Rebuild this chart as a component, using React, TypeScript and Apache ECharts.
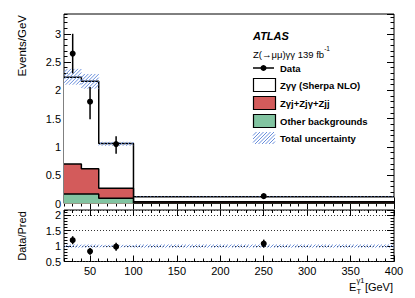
import React, { useEffect, useRef } from 'react';
import * as echarts from 'echarts';

// ---- data ----
const binEdges = [20, 40, 60, 100, 400];
const otherBkg = [0.17, 0.17, 0.095, 0.01];
const zjetsBkg = [0.53, 0.445, 0.175, 0.02];
const zyySignal = [1.53, 1.545, 0.79, 0.09];
const uncLow = [2.1, 2.03, 1.02, 0.115];
const uncHigh = [2.38, 2.29, 1.09, 0.128];
const dataX = [30, 50, 80, 250];
const dataY = [2.65, 1.8, 1.05, 0.13];
const dataErrUp = [0.35, 0.26, 0.14, 0.02];
const dataErrDown = [0.35, 0.31, 0.17, 0.02];
const ratioY = [1.19, 0.83, 0.98, 1.08];
const ratioErr = [0.13, 0.11, 0.13, 0.13];
const ratioUncLow = [0.95, 0.95, 0.96, 0.95];
const ratioUncHigh = [1.05, 1.05, 1.04, 1.05];
const xMajorTicks = [50, 100, 150, 200, 250, 300, 350, 400];
const legendLabels = ['Data', 'Zγγ (Sherpa NLO)', 'Zγj+Zjγ+Zjj', 'Other backgrounds', 'Total uncertainty'];

const FONT = '"Liberation Sans", Arial, Helvetica, sans-serif';
const RED = '#d35b5b';
const GREEN = '#82c4a1';
const HATCH = '#6a8fdc';

function stepData(vals: number[]) {
  return binEdges.map((e, i) => [e, vals[Math.min(i, vals.length - 1)]]);
}

function hatch(x0: number, y0: number, x1: number, y1: number, step: number, width = 1) {
  const out: any[] = [];
  const top = Math.min(y0, y1), bot = Math.max(y0, y1);
  for (let c = x0 + top; c <= x1 + bot; c += step) {
    const xa = Math.max(x0, c - bot);
    const xb = Math.min(x1, c - top);
    if (xb > xa) {
      out.push({
        type: 'line',
        shape: { x1: xa, y1: c - xa, x2: xb, y2: c - xb },
        style: { stroke: HATCH, lineWidth: width },
      });
    }
  }
  return out;
}

function xAx(grid: number, pos: 'top' | 'bottom', major: boolean, labels: boolean) {
  const base: any = {
    type: 'value', gridIndex: grid, position: pos, min: 20, max: 400,
    axisLine: { show: false }, splitLine: { show: false },
    axisTick: { show: true, inside: true, length: major ? 6 : 3, lineStyle: { color: '#000', width: 1 } },
    axisLabel: { show: false },
  };
  if (major) {
    base.axisTick.customValues = xMajorTicks;
    if (labels) {
      base.axisLabel = { show: true, customValues: xMajorTicks, fontFamily: FONT, fontSize: 11, color: '#000', margin: 4 };
    }
  } else {
    base.interval = 10;
  }
  return base;
}

function yAx(grid: number, pos: 'left' | 'right', major: boolean, labels: boolean, min: number, max: number, dotted = false) {
  return {
    type: 'value', gridIndex: grid, position: pos, min, max,
    interval: major ? 0.5 : 0.1,
    axisLine: { show: false },
    splitLine: dotted ? { show: true, lineStyle: { type: [1, 2], color: '#333', width: 1 } } : { show: false },
    axisTick: { show: true, inside: true, length: major ? 7 : 3.5, lineStyle: { color: '#000', width: 1 } },
    axisLabel: labels
      ? { show: true, fontFamily: FONT, fontSize: 11, color: '#000', margin: 3, showMaxLabel: false }
      : { show: false },
  };
}

export default function App() {
  const ref = useRef<HTMLDivElement>(null);
  useEffect(() => {
    if (!ref.current) return;
    const chart = echarts.init(ref.current, undefined, { renderer: 'svg' });

    const greenTop = otherBkg.map((v) => v);
    const redTop = otherBkg.map((v, i) => v + zjetsBkg[i]);
    const total = otherBkg.map((v, i) => v + zjetsBkg[i] + zyySignal[i]);

    const bins = otherBkg.map((_, i) => i);

    const legendY = [68, 85, 103, 121, 138];
    const graphic: any[] = [
      { type: 'text', x: 253, y: 36, style: { text: 'ATLAS', font: `italic bold 11px ${FONT}`, fill: '#000', verticalAlign: 'middle' } },
      {
        type: 'text', x: 253, y: 52,
        style: {
          text: '{a|Z(→μμ)γγ 139 fb}{s|-1}', verticalAlign: 'middle',
          rich: {
            a: { fontFamily: FONT, fontSize: 9.5, fill: '#000', verticalAlign: 'bottom', lineHeight: 14 },
            s: { fontFamily: FONT, fontSize: 6.5, fill: '#000', verticalAlign: 'top', lineHeight: 14 },
          },
        },
      },
      { type: 'line', shape: { x1: 253, y1: legendY[0], x2: 274, y2: legendY[0] }, style: { stroke: '#000', lineWidth: 1.5 } },
      { type: 'circle', shape: { cx: 263.5, cy: legendY[0], r: 3 }, style: { fill: '#000' } },
      { type: 'rect', shape: { x: 253.5, y: legendY[1] - 6.5, width: 22, height: 13 }, style: { fill: '#fff', stroke: '#000', lineWidth: 1.2 } },
      { type: 'rect', shape: { x: 253.5, y: legendY[2] - 6.5, width: 22, height: 13 }, style: { fill: RED, stroke: '#000', lineWidth: 1.2 } },
      { type: 'rect', shape: { x: 253.5, y: legendY[3] - 6.5, width: 22, height: 13 }, style: { fill: GREEN, stroke: '#000', lineWidth: 1.2 } },
      ...hatch(253, legendY[4] - 6, 275, legendY[4] + 6, 3.5),
      ...legendLabels.map((t, i) => ({
        type: 'text', x: 280, y: legendY[i],
        style: { text: t, font: `bold 9.5px ${FONT}`, fill: '#000', verticalAlign: 'middle' },
      })),
      { type: 'text', x: 22, y: 15, rotation: Math.PI / 2, style: { text: 'Events/GeV', font: `11.5px ${FONT}`, fill: '#000', align: 'right', verticalAlign: 'middle' } },
      { type: 'text', x: 22, y: 236, rotation: Math.PI / 2, style: { text: 'Data/Pred', font: `11px ${FONT}`, fill: '#000', align: 'center', verticalAlign: 'middle' } },
      { type: 'text', x: 393, y: 287, style: { text: '[GeV]', font: `11px ${FONT}`, fill: '#000', align: 'right', verticalAlign: 'middle' } },
      { type: 'text', x: 349, y: 287, style: { text: 'E', font: `11px ${FONT}`, fill: '#000', align: 'left', verticalAlign: 'middle' } },
      { type: 'text', x: 356.5, y: 291, style: { text: 'T', font: `7.5px ${FONT}`, fill: '#000', align: 'left', verticalAlign: 'middle' } },
      { type: 'text', x: 356.5, y: 280, style: { text: 'γ1', font: `7.5px ${FONT}`, fill: '#000', align: 'left', verticalAlign: 'middle' } },
    ];

    const option: any = {
      animation: false,
      backgroundColor: '#fff',
      grid: [
        { left: 64, right: 21, top: 14, height: 189.5, show: true, borderColor: '#000', borderWidth: 1, backgroundColor: 'transparent' },
        { left: 64, right: 21, top: 210, height: 51.5, show: true, borderColor: '#000', borderWidth: 1, backgroundColor: 'transparent' },
      ],
      xAxis: [
        xAx(0, 'bottom', true, false),
        xAx(0, 'bottom', false, false),
        xAx(0, 'top', true, false),
        xAx(0, 'top', false, false),
        xAx(1, 'bottom', true, true),
        xAx(1, 'bottom', false, false),
        xAx(1, 'top', true, false),
        xAx(1, 'top', false, false),
      ],
      yAxis: [
        yAx(0, 'left', true, true, 0, 3.35),
        yAx(0, 'left', false, false, 0, 3.35),
        yAx(0, 'right', true, false, 0, 3.35),
        yAx(0, 'right', false, false, 0, 3.35),
        yAx(1, 'left', true, true, 0.5, 2.17, true),
        yAx(1, 'left', false, false, 0.5, 2.17),
        yAx(1, 'right', true, false, 0.5, 2.17),
        yAx(1, 'right', false, false, 0.5, 2.17),
      ],
      graphic,
      series: [
        {
          name: 'Zγγ (Sherpa NLO)', type: 'line', xAxisIndex: 0, yAxisIndex: 0, step: 'end',
          data: stepData(total), symbol: 'none', showSymbol: false,
          lineStyle: { color: '#000', width: 1.5 }, areaStyle: { color: '#ffffff', opacity: 1 }, z: 2,
        },
        {
          name: 'Zγj+Zjγ+Zjj', type: 'line', xAxisIndex: 0, yAxisIndex: 0, step: 'end',
          data: stepData(redTop), symbol: 'none', showSymbol: false,
          lineStyle: { color: '#000', width: 1.5 }, areaStyle: { color: RED, opacity: 1 }, z: 3,
        },
        {
          name: 'Other backgrounds', type: 'line', xAxisIndex: 0, yAxisIndex: 0, step: 'end',
          data: stepData(greenTop), symbol: 'none', showSymbol: false,
          lineStyle: { color: '#000', width: 1.5 }, areaStyle: { color: GREEN, opacity: 1 }, z: 4,
        },
        {
          name: 'Total uncertainty', type: 'custom', xAxisIndex: 0, yAxisIndex: 0, z: 5,
          data: bins.map((i) => [binEdges[i], binEdges[i + 1], uncLow[i], uncHigh[i]]),
          encode: { x: [0, 1], y: [2, 3] },
          renderItem: (_p: any, api: any) => {
            const a = api.coord([api.value(0), api.value(3)]);
            const b = api.coord([api.value(1), api.value(2)]);
            return { type: 'group', children: hatch(a[0], a[1], b[0], b[1], 3.5) };
          },
        },
        {
          name: 'Data', type: 'custom', xAxisIndex: 0, yAxisIndex: 0, z: 6,
          data: bins.map((i) => [dataX[i], dataY[i], dataErrUp[i], dataErrDown[i]]),
          encode: { x: 0, y: 1 },
          renderItem: (_p: any, api: any) => {
            const x = api.value(0), y = api.value(1);
            const c = api.coord([x, y]);
            const t = api.coord([x, y + api.value(2)]);
            const b = api.coord([x, y - api.value(3)]);
            return {
              type: 'group', children: [
                { type: 'line', shape: { x1: t[0], y1: t[1], x2: b[0], y2: b[1] }, style: { stroke: '#000', lineWidth: 1.5 } },
                { type: 'circle', shape: { cx: c[0], cy: c[1], r: 3 }, style: { fill: '#000' } },
              ],
            };
          },
        },
        {
          name: 'Ratio uncertainty', type: 'custom', xAxisIndex: 4, yAxisIndex: 4, z: 5,
          data: bins.map((i) => [binEdges[i], binEdges[i + 1], ratioUncLow[i], ratioUncHigh[i]]),
          encode: { x: [0, 1], y: [2, 3] },
          renderItem: (_p: any, api: any) => {
            const a = api.coord([api.value(0), api.value(3)]);
            const b = api.coord([api.value(1), api.value(2)]);
            return { type: 'group', children: hatch(a[0], a[1], b[0], b[1], 3.5) };
          },
        },
        {
          name: 'Data/Pred', type: 'custom', xAxisIndex: 4, yAxisIndex: 4, z: 6,
          data: bins.map((i) => [dataX[i], ratioY[i], ratioErr[i], ratioErr[i]]),
          encode: { x: 0, y: 1 },
          renderItem: (_p: any, api: any) => {
            const x = api.value(0), y = api.value(1);
            const c = api.coord([x, y]);
            const t = api.coord([x, y + api.value(2)]);
            const b = api.coord([x, y - api.value(3)]);
            return {
              type: 'group', children: [
                { type: 'line', shape: { x1: t[0], y1: t[1], x2: b[0], y2: b[1] }, style: { stroke: '#000', lineWidth: 1.5 } },
                { type: 'circle', shape: { cx: c[0], cy: c[1], r: 3 }, style: { fill: '#000' } },
              ],
            };
          },
        },
      ],
    };
    chart.setOption(option);
    return () => chart.dispose();
  }, []);
  return <div ref={ref} style={{ width: 415, height: 298, position: 'absolute', left: 0, top: 0 }} />;
}
